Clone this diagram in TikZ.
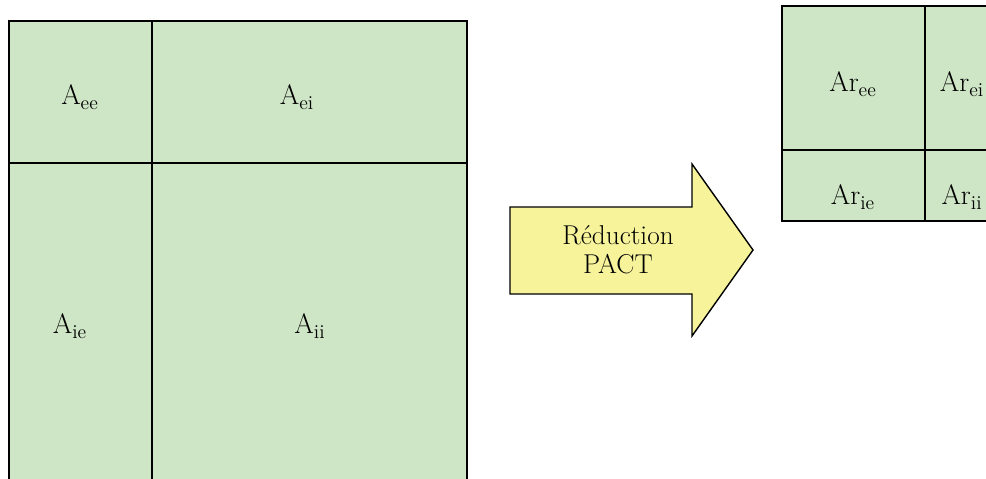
\documentclass[tikz,border=0pt]{standalone}
\usetikzlibrary{shapes.arrows}
\definecolor{cellgreen}{RGB}{207,230,198}
\definecolor{arrowyellow}{RGB}{246,243,155}
\begin{document}
\begin{tikzpicture}[x=0.02cm,y=-0.02cm,
  cell/.style={fill=cellgreen,draw=black,line width=0.8pt},
  lbl/.style={font=\fontsize{16}{18}\selectfont,inner sep=0pt},
  arrowtxt/.style={font=\fontsize{15.5}{16.5}\selectfont,align=center,inner sep=0pt}]
\useasboundingbox (0,0) rectangle (986,478);
\clip (0,0) rectangle (986,478);
% left matrix
\draw[cell] (9,21) rectangle (152,163);
\draw[cell] (152,21) rectangle (467,163);
\draw[cell] (9,163) rectangle (152,500);
\draw[cell] (152,163) rectangle (467,500);
\draw[line width=1pt] (9,500) -- (9,21) -- (467,21) -- (467,500);
\node[lbl] (aee) at (80,97) {A\textsubscript{ee}};
\node[lbl] (aei) at (297,97) {A\textsubscript{ei}};
\node[lbl] (aie) at (70,326) {A\textsubscript{ie}};
\node[lbl] (aii) at (310,326) {A\textsubscript{ii}};
% arrow
\draw[fill=arrowyellow,draw=black,line width=0.8pt]
  (510,207) -- (692,207) -- (692,164) -- (753,250) -- (692,336) -- (692,294) -- (510,294) -- cycle;
\node[arrowtxt] (red) at (618,250) {Réduction\\PACT};
% right matrix
\draw[cell] (782,6) rectangle (925,150);
\draw[cell] (925,6) rectangle (1100,150);
\draw[cell] (782,150) rectangle (925,221);
\draw[cell] (925,150) rectangle (1100,221);
\draw[line width=1pt] (1100,6) -- (782,6) -- (782,221) -- (1100,221);
\node[lbl] (aree) at (853,84) {Ar\textsubscript{ee}};
\node[lbl] (arei) at (962,84) {Ar\textsubscript{ei}};
\node[lbl] (arie) at (853,197) {Ar\textsubscript{ie}};
\node[lbl] (arii) at (962,197) {Ar\textsubscript{ii}};
\end{tikzpicture}
\end{document}
